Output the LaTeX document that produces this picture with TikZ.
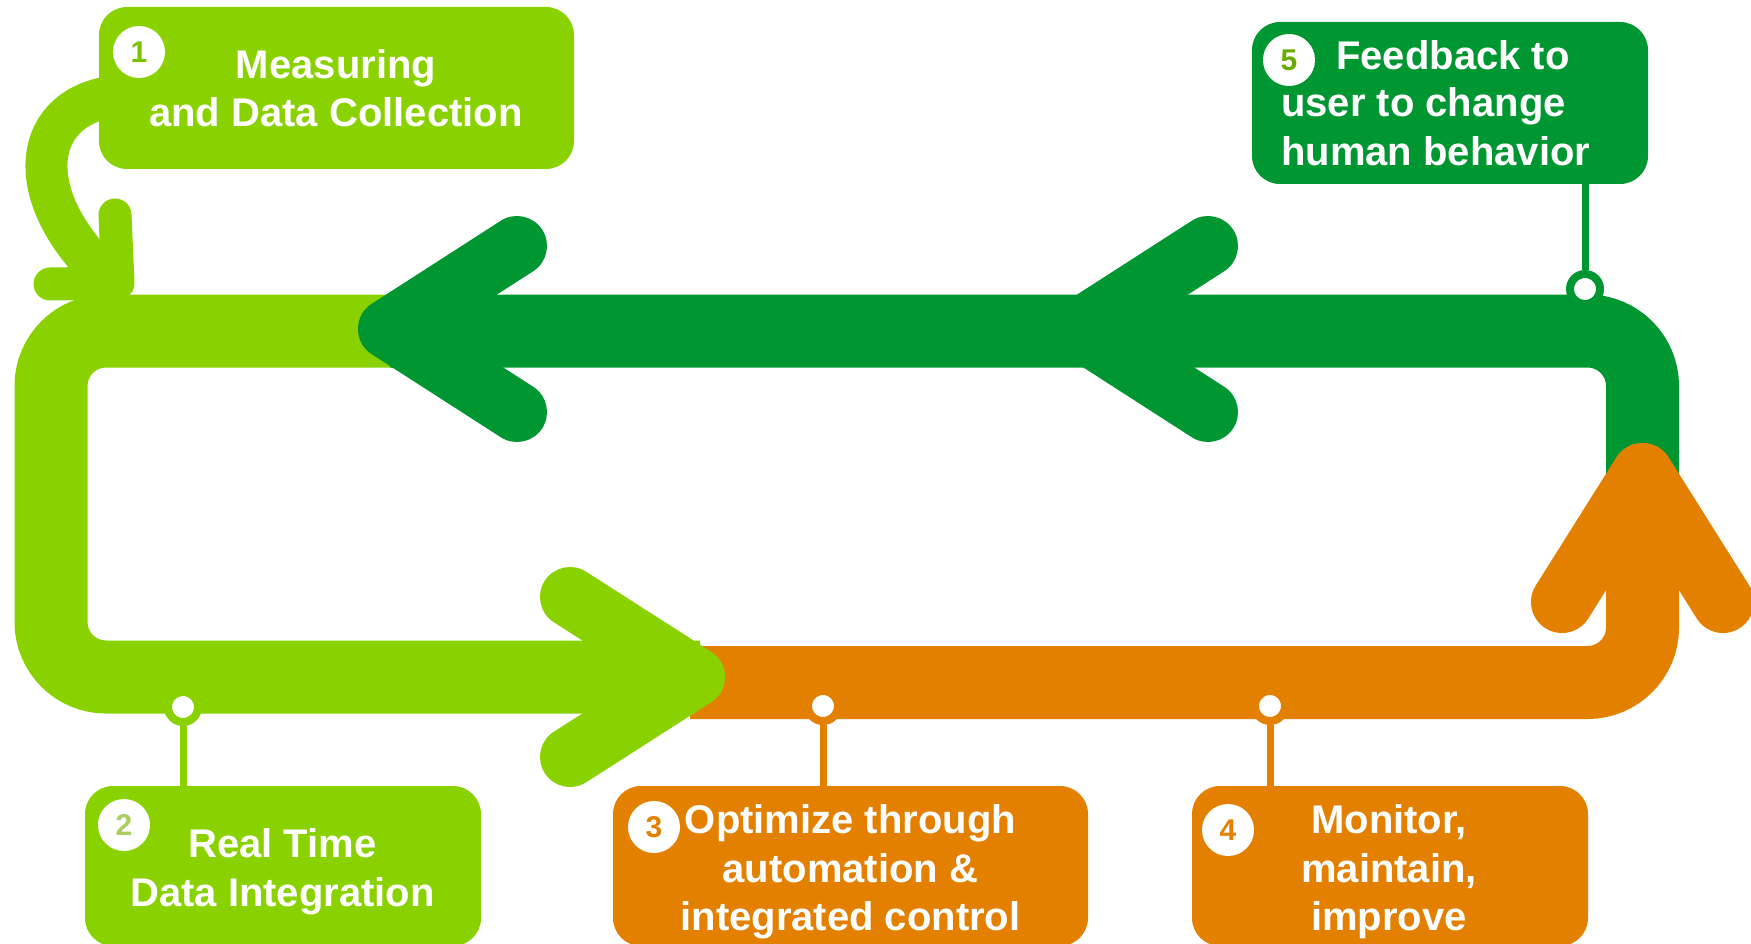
\documentclass[tikz,border=0pt]{standalone}
\usepackage{fontspec}
\setmainfont{Liberation Sans}
\definecolor{lg}{RGB}{137,210,0}
\definecolor{dg}{RGB}{0,150,50}
\definecolor{org}{RGB}{227,128,0}
\definecolor{n1}{RGB}{120,196,0}
\definecolor{n2}{RGB}{170,206,95}
\definecolor{n5}{RGB}{105,172,0}
\begin{document}
\begin{tikzpicture}[x=1pt,y=-1pt,
  band/.style={line width=73pt, rounded corners=55pt},
  chev/.style={line width=60pt, line cap=round, line join=round},
  box/.style={rounded corners=28pt, inner sep=0pt},
  num/.style={circle, fill=white, minimum size=52pt, inner sep=0pt, font=\fontsize{30}{30}\selectfont\bfseries},
  lbl/.style={text=white, inner sep=0pt, font=\fontsize{40}{48}\selectfont\bfseries},
  ring/.style={circle, fill=white, minimum size=30pt, inner sep=0pt, line width=8pt},
  stem/.style={line width=7pt}]
\useasboundingbox (0,0) rectangle (1751,944);
\clip (0,0) rectangle (1751,944);
% light green loop
\draw[band, lg] (400,331) -- (51,331) -- (51,677) -- (700,677);
% dark green band and chevrons
\draw[band, dg] (1642.5,500) -- (1642.5,331) -- (390,331);
\draw[chev, dg] (517,246) -- (388,329) -- (517,412);
\draw[chev, dg] (1208,246) -- (1079,329) -- (1208,412);
% orange band and chevron
\draw[band, org] (690,682.5) -- (1642.5,682.5) -- (1642.5,480);
\draw[chev, org, line width=62pt] (1562,602) -- (1642.5,474) -- (1723,602);
% light green chevron
\draw[chev, lg] (570,597) -- (695,677) -- (570,757);
% curved arrow from box 1
\draw[lg, line width=42pt] (110,97) .. controls (30,110) and (20,200) .. (112,282);
\draw[lg, line width=33pt, line cap=round, line join=round] (115,215) -- (118,283) -- (50,284);
% boxes
\node[box, fill=lg, minimum width=475pt, minimum height=162pt] (b1) at (336.5,88) {};
\node[box, fill=dg, minimum width=396pt, minimum height=162pt] (b5) at (1450,103) {};
\node[box, fill=lg, minimum width=396pt, minimum height=160pt] (b2) at (283,866) {};
\node[box, fill=org, minimum width=475pt, minimum height=160pt] (b3) at (850.5,866) {};
\node[box, fill=org, minimum width=396pt, minimum height=160pt] (b4) at (1390,866) {};
% number circles
\node[num, text=n1] (c1) at (139,52) {1};
\node[num, text=n5] (c5) at (1289,60) {5};
\node[num, text=n2] (c2) at (124,825) {2};
\node[num, text=org] (c3) at (654,827) {3};
\node[num, text=org] (c4) at (1228,830) {4};
% labels
\node[lbl, anchor=base] (t1a) at (336,79) {Measuring};
\node[lbl, anchor=base] (t1b) at (336,127) {and Data Collection};
\node[lbl, anchor=base west] (t5a) at (1336,70) {Feedback to};
\node[lbl, anchor=base west] (t5b) at (1281,117) {user to change};
\node[lbl, anchor=base west] (t5c) at (1281,166) {human behavior};
\node[lbl, anchor=base] (t2a) at (282.5,857) {Real Time};
\node[lbl, anchor=base] (t2b) at (282.5,906) {Data Integration};
\node[lbl, anchor=base] (t3a) at (850.5,833) {Optimize through};
\node[lbl, anchor=base] (t3b) at (850.5,882) {automation \&};
\node[lbl, anchor=base] (t3c) at (850.5,930) {integrated control};
\node[lbl, anchor=base] (t4a) at (1389,833) {Monitor,};
\node[lbl, anchor=base] (t4b) at (1389,882) {maintain,};
\node[lbl, anchor=base] (t4c) at (1389,930) {improve};
% rings and stems
\node[ring, draw=lg] (r2) at (183,707) {};
\draw[stem, lg] (r2) -- (r2 |- b2.north);
\node[ring, draw=org] (r3) at (823,706) {};
\draw[stem, org] (r3) -- (r3 |- b3.north);
\node[ring, draw=org] (r4) at (1270,706) {};
\draw[stem, org] (r4) -- (r4 |- b4.north);
\node[ring, draw=dg] (r5) at (1585,289) {};
\draw[stem, dg] (r5) -- (r5 |- b5.south);
\end{tikzpicture}
\end{document}
